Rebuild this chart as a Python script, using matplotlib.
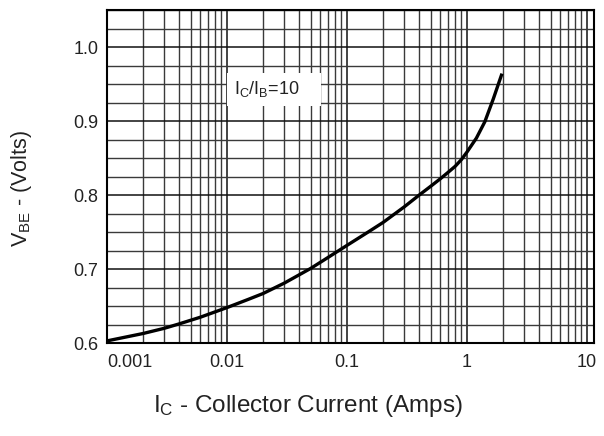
import numpy as np
import matplotlib.pyplot as plt
from matplotlib.ticker import FixedLocator, LogLocator, NullFormatter

plt.rcParams['font.family'] = ['Liberation Sans', 'DejaVu Sans']
plt.rcParams['mathtext.default'] = 'regular'

# VBE(sat) vs collector current, IC/IB = 10
ic = [0.001, 0.002, 0.003, 0.004, 0.006, 0.01, 0.015, 0.02, 0.03, 0.05,
      0.07, 0.1, 0.15, 0.2, 0.3, 0.4, 0.5, 0.6, 0.7, 0.8, 0.9, 1.0, 1.2,
      1.41, 1.66, 1.94]
vbe = [0.603, 0.613, 0.620, 0.626, 0.635, 0.648, 0.659, 0.667, 0.681, 0.701,
       0.716, 0.732, 0.750, 0.763, 0.784, 0.800, 0.812, 0.822, 0.831, 0.839,
       0.848, 0.858, 0.877, 0.899, 0.930, 0.962]

xticks = [0.001, 0.01, 0.1, 1, 10]
xtick_labels = ['0.001', '0.01', '0.1', '1', '10']
yticks = [0.6, 0.7, 0.8, 0.9, 1.0]
ytick_labels = ['0.6', '0.7', '0.8', '0.9', '1.0']

fig = plt.figure(figsize=(6.04, 4.36), dpi=100)
ax = fig.add_axes([0.177, 0.213, 0.806, 0.764])

ax.plot(ic, vbe, color='black', lw=2.4, solid_joinstyle='round', zorder=4)

ax.set_xscale('log')
ax.set_xlim(0.001, 11.4)
ax.set_ylim(0.6, 1.05)

ax.xaxis.set_major_locator(FixedLocator(xticks))
ax.set_xticklabels(xtick_labels)
ax.xaxis.set_minor_locator(LogLocator(base=10, subs=np.arange(2, 10)))
ax.xaxis.set_minor_formatter(NullFormatter())
ax.set_yticks(yticks)
ax.set_yticklabels(ytick_labels)
ax.yaxis.set_minor_locator(FixedLocator(np.arange(0.6, 1.051, 0.025)))

ax.tick_params(which='both', length=0, labelsize=13, colors='#222222')
ax.tick_params(axis='x', pad=8)
ax.tick_params(axis='y', pad=6)
ax.get_xticklabels()[0].set_horizontalalignment('left')

ax.grid(True, which='major', color='#111111', lw=1.1)
ax.grid(True, which='minor', color='#3a3a3a', lw=1.0)
ax.set_axisbelow(True)
for s in ax.spines.values():
    s.set_color('black')
    s.set_linewidth(1.5)

ax.text(0.0114, 0.943, r'I$_{C}$/I$_{B}$=10    ', fontsize=13, color='#222222',
        ha='left', va='center', zorder=3,
        bbox=dict(boxstyle='square,pad=0.35', fc='white', ec='none'))

ax.set_ylabel(r'V$_{BE}$ - (Volts)', fontsize=15.5, color='#222222')
ax.yaxis.set_label_coords(-0.149, 0.465)
ax.set_xlabel(r'I$_{C}$ - Collector Current (Amps)', fontsize=17.5,
              color='#222222')
ax.xaxis.set_label_coords(0.413, -0.15)

fig.savefig('out.png', dpi=100)
